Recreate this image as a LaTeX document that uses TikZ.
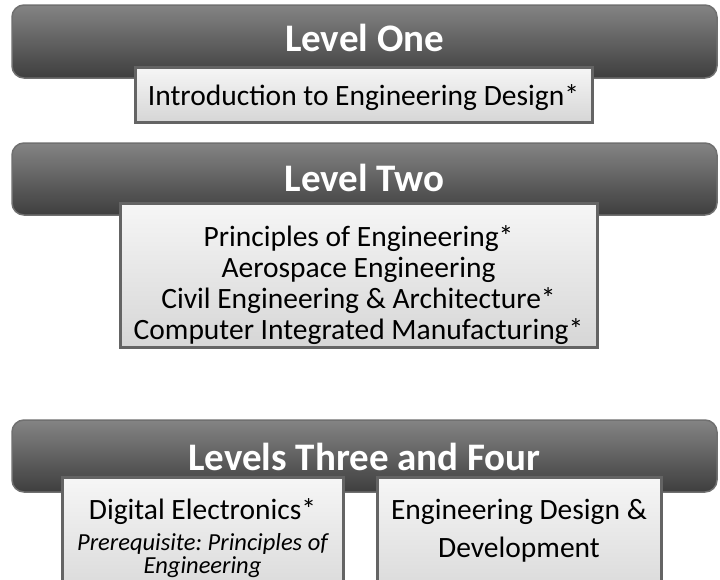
\documentclass[tikz,border=0pt]{standalone}
\usepackage{fontspec}
\setmainfont{Carlito}
\frenchspacing
\definecolor{bannertop}{RGB}{132,132,132}
\definecolor{bannerbot}{RGB}{62,62,62}
\definecolor{bannerline}{RGB}{112,112,112}
\definecolor{boxtop}{RGB}{246,246,246}
\definecolor{boxbot}{RGB}{214,214,214}
\definecolor{boxline}{RGB}{100,100,100}
\begin{document}
\begin{tikzpicture}[x=1pt, y=-1pt,
  banner/.style={draw=bannerline, line width=1.5pt, rounded corners=12pt,
    top color=bannertop, bottom color=bannerbot, minimum width=705pt,
    minimum height=73pt, inner sep=0pt},
  title/.style={text=white, font=\fontsize{39}{44}\selectfont\bfseries, inner sep=0pt},
  course/.style={draw=boxline, line width=3pt, top color=boxtop,
    bottom color=boxbot, inner sep=0pt},
  lines/.style={align=center, inner sep=0pt, font=\fontsize{29.5}{31}\selectfont},
  note/.style={font=\fontsize{24.5}{23}\selectfont\itshape}]
% Rahmen
\clip (0,0) rectangle (720,579);
\fill[white] (0,0) rectangle (720,579);

% Level One
\node[banner] (lvlone) at (364.5,41.5) {};
\node[title] (lvlonet) at (364.5,38) {Level One};
\node[course, minimum width=457pt, minimum height=55pt] (intro) at (363.5,94.5) {};
\node[lines] (introt) at (363.5,98) {Introduction to Engineering Design*};

% Level Two
\node[banner, minimum height=72pt] (lvltwo) at (364.5,179) {};
\node[title] (lvltwot) at (364.5,178) {Level Two};
\node[course, minimum width=477pt, minimum height=144pt] (two) at (358.5,275) {};
\node[lines] (twot) at (358.5,285) {Principles of Engineering*\\
  Aerospace Engineering\\
  Civil Engineering \& Architecture*\\
  Computer Integrated Manufacturing*};

% Levels Three and Four
\node[banner, minimum height=72pt] (lvlthree) at (364.5,456) {};
\node[title] (lvlthreet) at (364.5,457) {Levels Three and Four};
\node[course, minimum width=281pt, minimum height=130pt] (digital) at (202.5,542) {};
\node[course, minimum width=284pt, minimum height=130pt] (edd) at (519,542) {};
\node[lines] (digitalt) at (202.5,512) {Digital Electronics*};
\node[lines, note] (digitaln) at (202.5,556) {Prerequisite: Principles of\\ Engineering};
\node[lines] (eddt) at (519,531) {Engineering Design \&\\[7pt] Development};

\end{tikzpicture}
\end{document}
